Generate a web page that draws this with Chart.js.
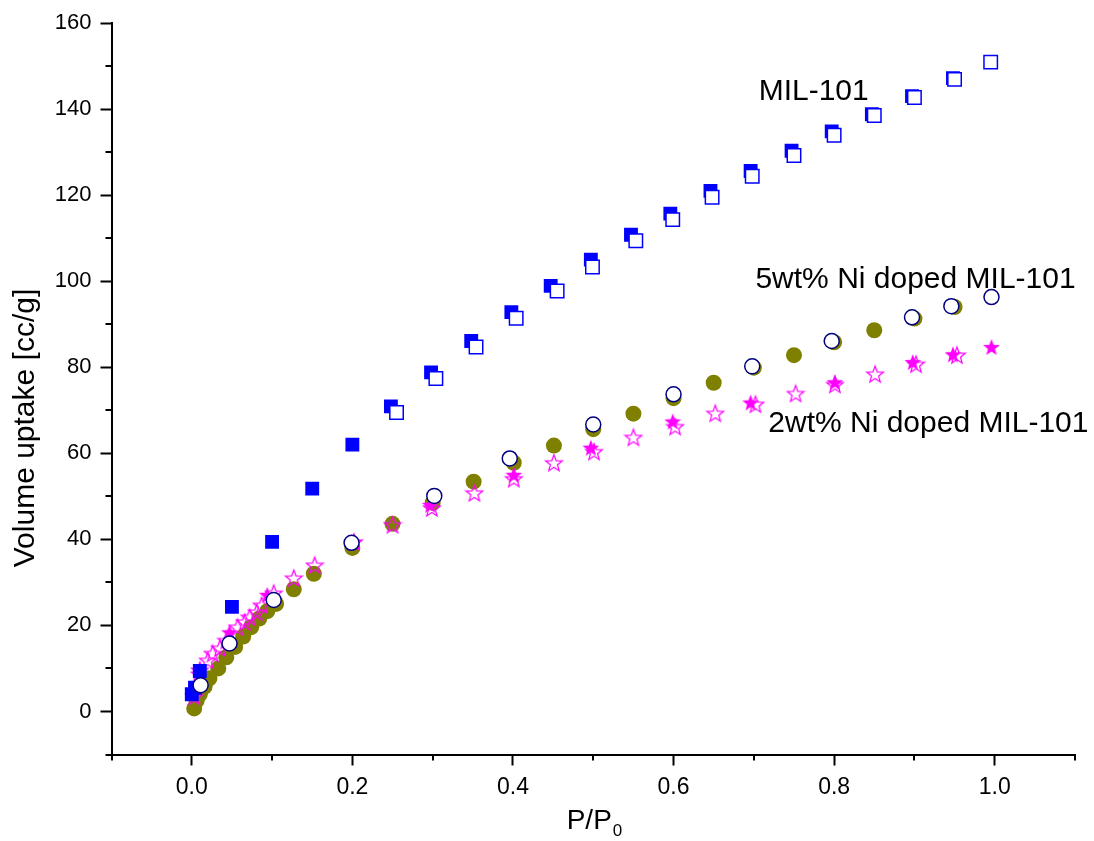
<!DOCTYPE html>
<html>
<head>
<meta charset="utf-8">
<script src="https://cdn.jsdelivr.net/npm/chart.js@4.4.1/dist/chart.umd.min.js"></script>
<style>
  html, body { margin: 0; padding: 0; background: #fff; }
  #graphCanvas { display: block; }
</style>
</head>
<body>
<canvas id="graphCanvas" width="1094" height="841"></canvas>
<script>
// MIL-101 (squares)
let mil_ads_x = [0.0, 0.004, 0.01, 0.05, 0.1, 0.15, 0.2, 0.248, 0.298, 0.348, 0.398, 0.447, 0.497, 0.547, 0.596, 0.646, 0.696, 0.747, 0.797, 0.847, 0.897, 0.948];
let mil_ads_y = [4.0, 5.5, 9.4, 24.3, 39.4, 51.8, 62.0, 70.9, 78.8, 86.1, 92.8, 98.9, 105.0, 110.8, 115.7, 121.0, 125.6, 130.3, 134.8, 138.8, 143.0, 147.2];
let mil_des_x = [0.255, 0.304, 0.354, 0.404, 0.455, 0.499, 0.553, 0.599, 0.648, 0.698, 0.75, 0.8, 0.85, 0.9, 0.95, 0.995];
let mil_des_y = [69.5, 77.4, 84.7, 91.4, 97.7, 103.3, 109.4, 114.3, 119.5, 124.4, 129.2, 133.9, 138.5, 142.7, 146.9, 150.9];

// 5wt% Ni doped MIL-101 (circles)
let ni5_ads_x = [0.003, 0.006, 0.01, 0.016, 0.022, 0.033, 0.043, 0.054, 0.064, 0.074, 0.084, 0.094, 0.105, 0.127, 0.152, 0.2, 0.25, 0.3, 0.351, 0.401, 0.451, 0.5, 0.55, 0.6, 0.65, 0.7, 0.75, 0.8, 0.85, 0.9, 0.95];
let ni5_ads_y = [0.7, 2.5, 4.0, 5.8, 7.7, 10.0, 12.6, 15.0, 17.4, 19.6, 21.6, 23.3, 25.0, 28.4, 32.0, 38.0, 43.6, 48.5, 53.4, 57.8, 61.8, 65.6, 69.2, 72.8, 76.4, 79.9, 82.8, 85.8, 88.6, 91.3, 94.0];
let ni5_des_x = [0.011, 0.047, 0.102, 0.199, 0.302, 0.396, 0.5, 0.6, 0.698, 0.797, 0.897, 0.946, 0.996];
let ni5_des_y = [6.1, 15.8, 25.9, 39.2, 50.1, 58.8, 66.7, 73.7, 80.2, 86.1, 91.6, 94.2, 96.3];

// 2wt% Ni doped MIL-101 (stars)
let ni2_ads_x = [0.003, 0.01, 0.02, 0.026, 0.035, 0.043, 0.057, 0.066, 0.072, 0.081, 0.087, 0.102, 0.127, 0.153, 0.202, 0.25, 0.299, 0.352, 0.401, 0.451, 0.501, 0.55, 0.602, 0.652, 0.702, 0.752, 0.801, 0.851, 0.902, 0.953];
let ni2_ads_y = [3.5, 9.6, 11.9, 13.5, 14.7, 16.5, 19.6, 20.8, 21.9, 23.1, 24.7, 27.5, 31.0, 34.0, 39.4, 43.4, 47.3, 50.8, 54.1, 57.8, 60.4, 63.7, 66.2, 69.3, 71.4, 73.9, 76.0, 78.4, 80.7, 82.8];
let ni2_des_x = [0.008, 0.047, 0.094, 0.297, 0.401, 0.497, 0.599, 0.696, 0.801, 0.898, 0.948, 0.996];
let ni2_des_y = [8.8, 18.4, 27.1, 48.0, 55.0, 61.3, 67.4, 71.8, 76.5, 81.2, 83.0, 84.7];

// axis ticks
let x_major = [0.0, 0.2, 0.4, 0.6, 0.8, 1.0];
let x_minor = [-0.1, 0.1, 0.3, 0.5, 0.7, 0.9, 1.1];
let y_major = [0, 20, 40, 60, 80, 100, 120, 140, 160];
let y_minor = [-10, 10, 30, 50, 70, 90, 110, 130, 150];

// curve labels, anchored in data units (left edge, vertical middle)
let label_texts = ["MIL-101", "5wt% Ni doped MIL-101", "2wt% Ni doped MIL-101"];
let label_x = [0.706, 0.702, 0.718];
let label_y = [144.1, 100.3, 66.9];

const FONT = "'Liberation Sans', Arial, sans-serif";

function toPoints(xs, ys) {
    return xs.map((x, i) => ({ x: x, y: ys[i] }));
}

// five pointed star as an image, Chart.js has no such point style
function makeStar(filled, color) {
    let size = 20;
    let c = document.createElement("canvas");
    c.width = size;
    c.height = size;
    let g = c.getContext("2d");
    let outer = 8.8, inner = 3.7;
    let cx = size / 2, cy = size / 2 + 0.8;
    g.beginPath();
    for (let i = 0; i < 10; i++) {
        let r = i % 2 == 0 ? outer : inner;
        let a = -Math.PI / 2 + i * Math.PI / 5;
        let px = cx + r * Math.cos(a);
        let py = cy + r * Math.sin(a);
        if (i == 0) g.moveTo(px, py); else g.lineTo(px, py);
    }
    g.closePath();
    if (filled) {
        g.fillStyle = color;
        g.fill();
    } else {
        g.strokeStyle = color;
        g.lineWidth = 1.2;
        g.stroke();
    }
    return c;
}

let starFilled = makeStar(true, "#ff00ff");
let starOpen = makeStar(false, "#ff00ff");

const extras = {
    id: "extras",
    afterDraw(chart) {
        let c = chart.ctx;
        let xs = chart.scales.x, ys = chart.scales.y;
        let area = chart.chartArea;
        c.save();

        // minor ticks
        c.strokeStyle = "#000";
        c.lineWidth = 2;
        c.beginPath();
        x_minor.forEach((v) => {
            let px = Math.round(xs.getPixelForValue(v));
            c.moveTo(px, area.bottom);
            c.lineTo(px, area.bottom + 6);
        });
        y_minor.forEach((v) => {
            let py = Math.round(ys.getPixelForValue(v));
            c.moveTo(area.left, py);
            c.lineTo(area.left - 6, py);
        });
        c.stroke();

        // curve labels
        c.fillStyle = "#000";
        c.font = "30px " + FONT;
        c.textBaseline = "middle";
        c.textAlign = "left";
        label_texts.forEach((t, i) => {
            c.fillText(t, xs.getPixelForValue(label_x[i]), ys.getPixelForValue(label_y[i]));
        });

        // y title
        c.save();
        c.font = "30px " + FONT;
        c.textAlign = "center";
        c.textBaseline = "alphabetic";
        c.translate(34, 428);
        c.rotate(-Math.PI / 2);
        c.fillText("Volume uptake [cc/g]", 0, 0);
        c.restore();

        // x title with subscript
        let main = "P/P";
        c.font = "28px " + FONT;
        c.textAlign = "left";
        c.textBaseline = "alphabetic";
        let w = c.measureText(main).width;
        let cx = (area.left + area.right) / 2;
        let base = area.bottom + 74;
        c.fillText(main, cx - w / 2 - 4, base);
        c.font = "17px " + FONT;
        c.fillText("0", cx + w / 2 - 3, base + 7);
        c.restore();
    }
};

const ctx = document.getElementById("graphCanvas").getContext("2d");

let axisGrid = { drawOnChartArea: false, drawTicks: true, tickLength: 11, tickColor: "#000", tickWidth: 2 };

let chart = new Chart(ctx, {
    type: "scatter",
    data: {
        datasets: [
            {
                label: "5wt% desorption",
                data: toPoints(ni5_des_x, ni5_des_y),
                pointStyle: "circle",
                pointRadius: 7.5,
                pointBackgroundColor: "#ffffff",
                pointBorderColor: "#000080",
                pointBorderWidth: 1.5,
                order: 0,
            },
            {
                label: "MIL-101 desorption",
                data: toPoints(mil_des_x, mil_des_y),
                pointStyle: "rect",
                pointRadius: 9.5,
                pointBackgroundColor: "#ffffff",
                pointBorderColor: "#0000ff",
                pointBorderWidth: 1.5,
                order: 1,
            },
            {
                label: "MIL-101 adsorption",
                data: toPoints(mil_ads_x, mil_ads_y),
                pointStyle: "rect",
                pointRadius: 9.8,
                pointBackgroundColor: "#0000ff",
                pointBorderColor: "#0000ff",
                pointBorderWidth: 0,
                order: 2,
            },
            {
                label: "2wt% desorption",
                data: toPoints(ni2_des_x, ni2_des_y),
                pointStyle: starFilled,
                pointRadius: 9,
                order: 3,
            },
            {
                label: "2wt% adsorption",
                data: toPoints(ni2_ads_x, ni2_ads_y),
                pointStyle: starOpen,
                pointRadius: 9,
                order: 4,
            },
            {
                label: "5wt% adsorption",
                data: toPoints(ni5_ads_x, ni5_ads_y),
                pointStyle: "circle",
                pointRadius: 8,
                pointBackgroundColor: "#808000",
                pointBorderColor: "#808000",
                pointBorderWidth: 0,
                order: 5,
            },
        ],
    },
    options: {
        responsive: false,
        animation: false,
        layout: { padding: { left: 0, right: 19, top: 23, bottom: 0 } },
        plugins: {
            legend: { display: false },
            tooltip: { enabled: false },
        },
        scales: {
            x: {
                type: "linear",
                min: -0.1,
                max: 1.1,
                afterBuildTicks: (s) => { s.ticks = x_major.map((v) => ({ value: v })); },
                afterFit: (s) => { s.height = 86.5; },
                border: { display: true, color: "#000", width: 2 },
                grid: axisGrid,
                ticks: {
                    color: "#000",
                    padding: 8,
                    font: { family: FONT, size: 23 },
                    callback: (v) => Number(v).toFixed(1),
                },
            },
            y: {
                type: "linear",
                min: -10,
                max: 160,
                afterBuildTicks: (s) => { s.ticks = y_major.map((v) => ({ value: v })); },
                afterFit: (s) => { s.width = 111.5; },
                border: { display: true, color: "#000", width: 2 },
                grid: axisGrid,
                ticks: {
                    color: "#000",
                    padding: 9,
                    font: { family: FONT, size: 22 },
                    callback: (v) => String(v),
                },
            },
        },
    },
    plugins: [extras],
});
</script>
</body>
</html>
